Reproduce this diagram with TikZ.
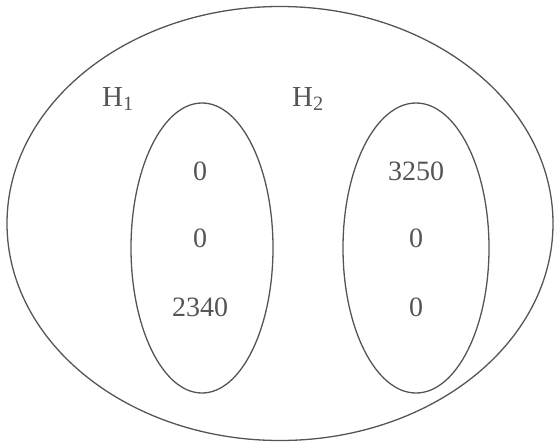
\documentclass[tikz,border=0pt]{standalone}
\usepackage{fontspec}
\setmainfont{Liberation Serif}
\definecolor{ink}{HTML}{555555}
\tikzset{
  ring/.style={draw=ink, line width=1.3pt},
  val/.style={text=ink, font=\fontsize{28}{28}\selectfont, inner sep=0pt, anchor=base},
  lab/.style={text=ink, font=\fontsize{29}{29}\selectfont, inner sep=0pt, anchor=base west}
}
\begin{document}
\begin{tikzpicture}[x=1pt,y=-1pt]
\useasboundingbox (0,0) rectangle (554,442);
\draw[ring] (280,223.5) ellipse [x radius=273, y radius=217];
\draw[ring] (202,248) ellipse [x radius=71, y radius=145];
\draw[ring] (416,248) ellipse [x radius=73, y radius=145];
\node[lab] (h1) at (102,106) {H\textsubscript{1}};
\node[lab] (h2) at (292,106) {H\textsubscript{2}};
\node[val] (a1) at (200,180) {0};
\node[val] (a2) at (200,247) {0};
\node[val] (a3) at (200,316) {2340};
\node[val] (b1) at (416,180) {3250};
\node[val] (b2) at (416,247) {0};
\node[val] (b3) at (416,316) {0};
\end{tikzpicture}
\end{document}
